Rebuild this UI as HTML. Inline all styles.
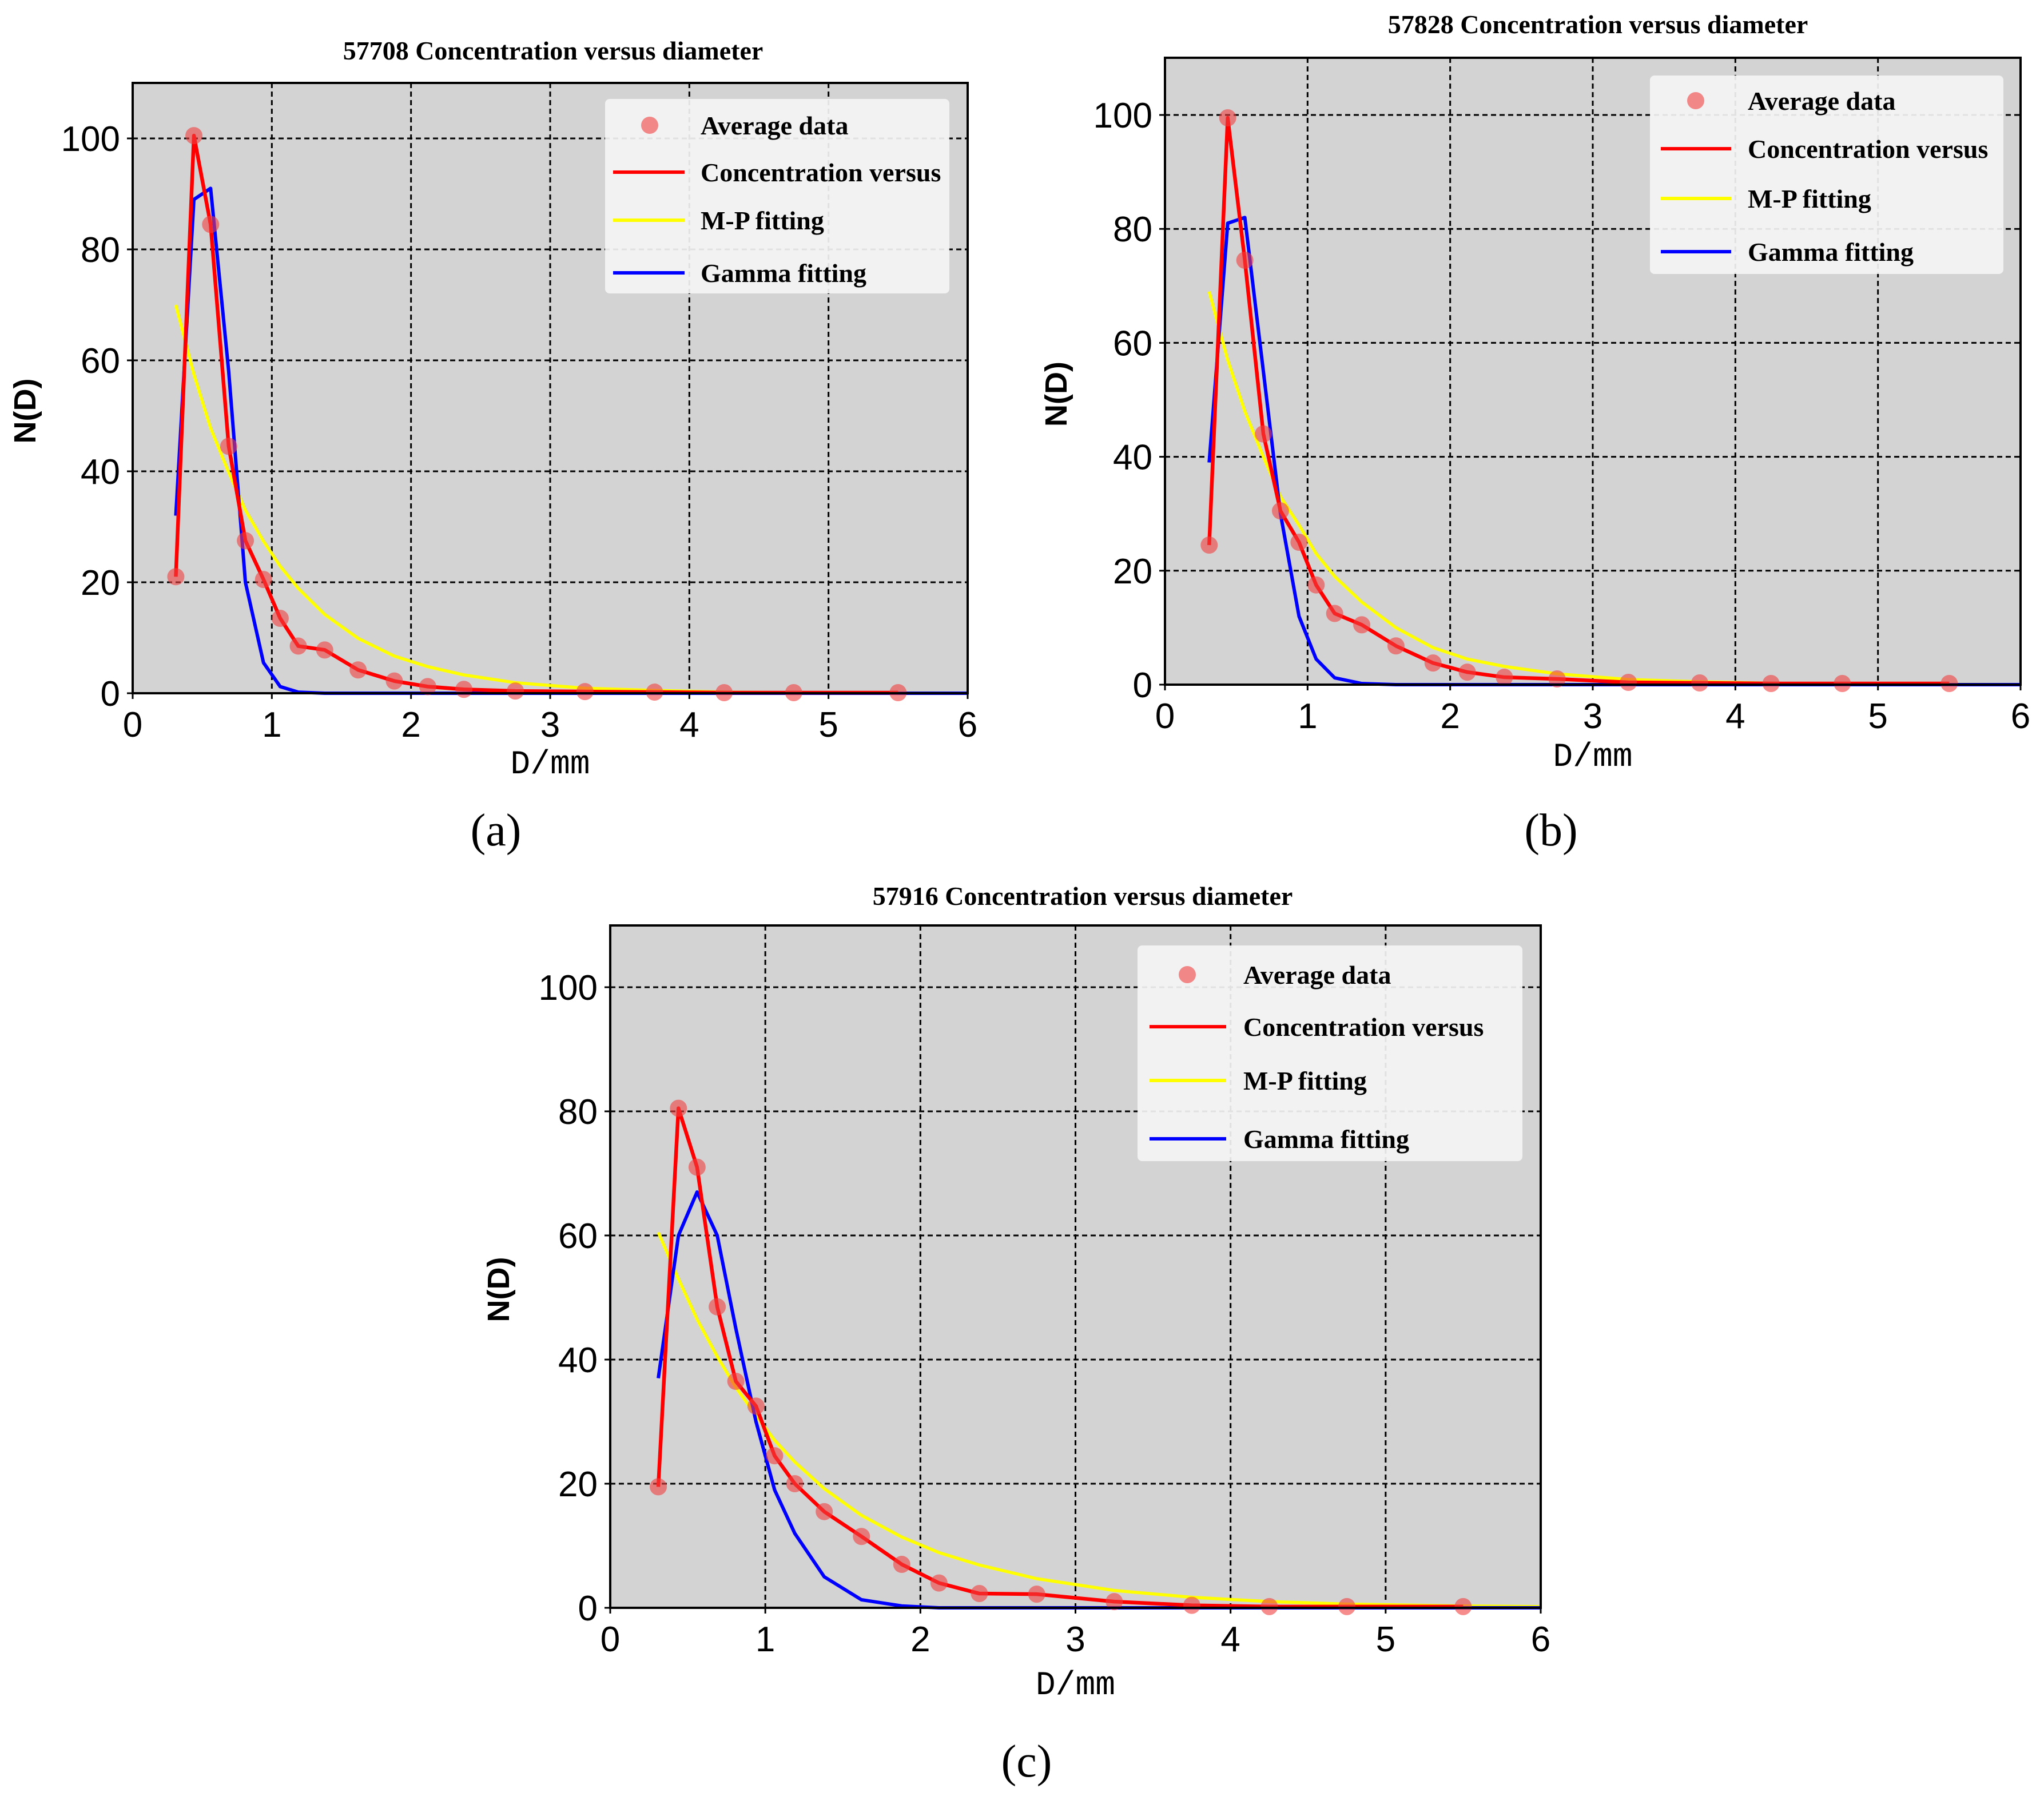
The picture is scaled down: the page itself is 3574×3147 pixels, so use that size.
<!DOCTYPE html>
<html><head><meta charset="utf-8"><style>
html,body{margin:0;padding:0;background:#fff;}
svg{display:block;}
</style></head><body>
<svg id="fig" xmlns="http://www.w3.org/2000/svg" width="3574" height="3147" viewBox="0 0 3574 3147"></svg>
<script>
// Shared diameter bins (mm)
const diam = [0.31,0.44,0.56,0.69,0.81,0.94,1.06,1.19,1.38,1.62,1.88,2.12,2.38,2.75,3.25,3.75,4.25,4.75,5.5];
const fitDiam = [0.31,0.44,0.56,0.69,0.81,0.94,1.06,1.19,1.38,1.62,1.88,2.12,2.38,2.75,3.25,3.75,4.25,4.75,5.5,6];
const xTicks = [0,1,2,3,4,5,6];
const yTicks = [0,20,40,60,80,100];
const legendLabels = ["Average data","Concentration versus","M-P fitting","Gamma fitting"];
const panelTitles = ["57708 Concentration versus diameter","57828 Concentration versus diameter","57916 Concentration versus diameter"];
const panelLetters = ["(a)","(b)","(c)"];
// Panel a
const avgA = [21,100.5,84.5,44.5,27.5,20.5,13.5,8.5,7.8,4.2,2.2,1.2,0.7,0.4,0.3,0.2,0.1,0.1,0.1];
const mpA = [70,57.5,47.8,39.8,33,27.4,22.9,18.9,14.2,9.9,6.7,4.8,3.3,1.9,0.9,0.5,0.2,0.1,0.05,0.03];
const gammaA = [32,89,91,58,20,5.5,1.2,0.2,0,0,0,0,0,0,0,0,0,0,0,0];
// Panel b
const avgB = [24.5,99.5,74.5,44,30.5,25,17.5,12.5,10.5,6.8,3.8,2.2,1.3,1.0,0.4,0.3,0.2,0.2,0.2];
const mpB = [69,57,48,40,33,28,23,19,14.5,10,6.5,4.5,3.2,1.9,0.9,0.5,0.25,0.1,0.05,0.03];
const gammaB = [39,81,82,55,30,12,4.5,1.2,0.2,0,0,0,0,0,0,0,0,0,0,0];
// Panel c
const avgC = [19.5,80.5,71,48.5,36.5,32.5,24.5,20,15.5,11.5,7,4,2.3,2.2,1,0.4,0.2,0.2,0.2];
const mpC = [60.5,53,46.5,40.5,35.5,31,27,23.5,19.2,14.9,11.4,8.9,6.9,4.7,2.8,1.7,1.0,0.6,0.3,0.2];
const gammaC = [37,60,67,60,45,30,19,12,5,1.3,0.3,0,0,0,0,0,0,0,0,0];

const NS="http://www.w3.org/2000/svg";
const svg=document.getElementById('fig');
function mk(tag,attrs,parent,text){const e=document.createElementNS(NS,tag);for(const k in attrs)e.setAttribute(k,attrs[k]);if(text!==undefined)e.textContent=text;(parent||svg).appendChild(e);return e;}

const panels=[
 {x0:232,x6:1692,y0:1212,y100:242,top:145,title:[967,104],letter:[867,1478],ylab:62,xlab:1352,avg:avgA,mp:mpA,gam:gammaA,
  leg:{x:1058,y:173,w:602,h:340,ys:[219,301,385,477],mx:1136,l1:1072,l2:1197,tx:1225}},
 {x0:2037,x6:3533,y0:1197,y100:201,top:101,title:[2794,58],letter:[2712,1478],ylab:1865,xlab:1339,avg:avgB,mp:mpB,gam:gammaB,
  leg:{x:2885,y:132,w:618,h:347,ys:[176,260,347,440],mx:2965,l1:2904,l2:3027,tx:3056}},
 {x0:1067,x6:2694,y0:2811,y100:1726,top:1618,title:[1893,1582],letter:[1795,3106],ylab:890,xlab:2962,avg:avgC,mp:mpC,gam:gammaC,
  leg:{x:1989,y:1653,w:673,h:377,ys:[1704,1795,1889,1991],mx:2076,l1:2010,l2:2144,tx:2174}}
];

panels.forEach((p,pi)=>{
  const g=mk('g',{});
  
  
  const xs=v=>p.x0+(p.x6-p.x0)*v/6;
  const ys=v=>p.y0-(p.y0-p.y100)*v/100;
  const bg=mk('rect',{x:p.x0,y:p.top,width:p.x6-p.x0,height:p.y0-p.top,fill:'#d3d3d3'},g);
  
  
  xTicks.forEach(t=>{ if(t>0&&t<6){const l=mk('line',{x1:xs(t),x2:xs(t),y1:p.top,y2:p.y0,stroke:'#000','stroke-width':3,'stroke-dasharray':'9,6'},g);
    
    }});
  yTicks.forEach(t=>{ if(t>0){const l=mk('line',{x1:p.x0,x2:p.x6,y1:ys(t),y2:ys(t),stroke:'#000','stroke-width':3,'stroke-dasharray':'9,6'},g);
    
    }});
  const pts=(xa,ya)=>ya.map((v,i)=>xs(xa[i])+','+ys(v)).join(' ');
  const mp=mk('polyline',{points:pts(fitDiam,p.mp),fill:'none',stroke:'#ffff00','stroke-width':5.5},g);
  
  
  const ga=mk('polyline',{points:pts(fitDiam,p.gam),fill:'none',stroke:'#0000ff','stroke-width':6,'stroke-linejoin':'round'},g);
  
  
  const rl=mk('polyline',{points:pts(diam,p.avg),fill:'none',stroke:'#ff0000','stroke-width':6.5,'stroke-linejoin':'round'},g);
  
  
  p.avg.forEach((v,i)=>{const c=mk('circle',{cx:xs(diam[i]),cy:ys(v),r:15,fill:'#f04040','fill-opacity':0.6},g);
    
    });
  const fr=mk('rect',{x:p.x0,y:p.top,width:p.x6-p.x0,height:p.y0-p.top,fill:'none',stroke:'#000','stroke-width':4},g);
  
  
  xTicks.forEach(t=>{mk('line',{x1:xs(t),x2:xs(t),y1:p.y0,y2:p.y0+10,stroke:'#000','stroke-width':3},g);
    const tx=mk('text',{x:xs(t),y:p.y0+76,'text-anchor':'middle','font-family':'"Liberation Sans",sans-serif','font-size':62},g,String(t));
    
    });
  yTicks.forEach(t=>{mk('line',{x1:p.x0-10,x2:p.x0,y1:ys(t),y2:ys(t),stroke:'#000','stroke-width':3},g);
    const tx=mk('text',{x:p.x0-22,y:ys(t)+22,'text-anchor':'end','font-family':'"Liberation Sans",sans-serif','font-size':62},g,String(t));
    
    });
  const xl=mk('text',{x:(p.x0+p.x6)/2,y:p.xlab,'text-anchor':'middle','font-family':'"Liberation Mono",monospace','font-size':58},g,'D/mm');
  
  
  const yc=(p.y0+p.top)/2+40;
  const yl=mk('text',{x:p.ylab,y:yc,'text-anchor':'middle','font-family':'"Liberation Sans",sans-serif','font-size':54,'font-weight':'bold',transform:'rotate(-90 '+p.ylab+' '+yc+')'},g,'N(D)');
  
  
  const ti=mk('text',{x:p.title[0],y:p.title[1],'text-anchor':'middle','font-family':'"Liberation Serif",serif','font-size':46,'font-weight':'bold'},g,panelTitles[pi]);
  
  
  const le=mk('text',{x:p.letter[0],y:p.letter[1],'text-anchor':'middle','font-family':'"Liberation Serif",serif','font-size':80},g,panelLetters[pi]);
  
  
  const L=p.leg;
  const lg=mk('g',{},g);
  
  
  mk('rect',{x:L.x,y:L.y,width:L.w,height:L.h,rx:8,fill:'#f4f4f4','fill-opacity':0.92},lg);
  const colors=['#ff0000','#ffff00','#0000ff'];
  legendLabels.forEach((lab,i)=>{
    if(i===0){mk('circle',{cx:L.mx,cy:L.ys[0],r:15,fill:'#f04040','fill-opacity':0.6},lg);}
    else{mk('line',{x1:L.l1,x2:L.l2,y1:L.ys[i],y2:L.ys[i],stroke:colors[i-1],'stroke-width':6},lg);}
    const t=mk('text',{x:L.tx,y:L.ys[i]+16,'font-family':'"Liberation Serif",serif','font-size':46,'font-weight':'bold'},lg,lab);
    
    
  });
});
</script>
</body></html>
